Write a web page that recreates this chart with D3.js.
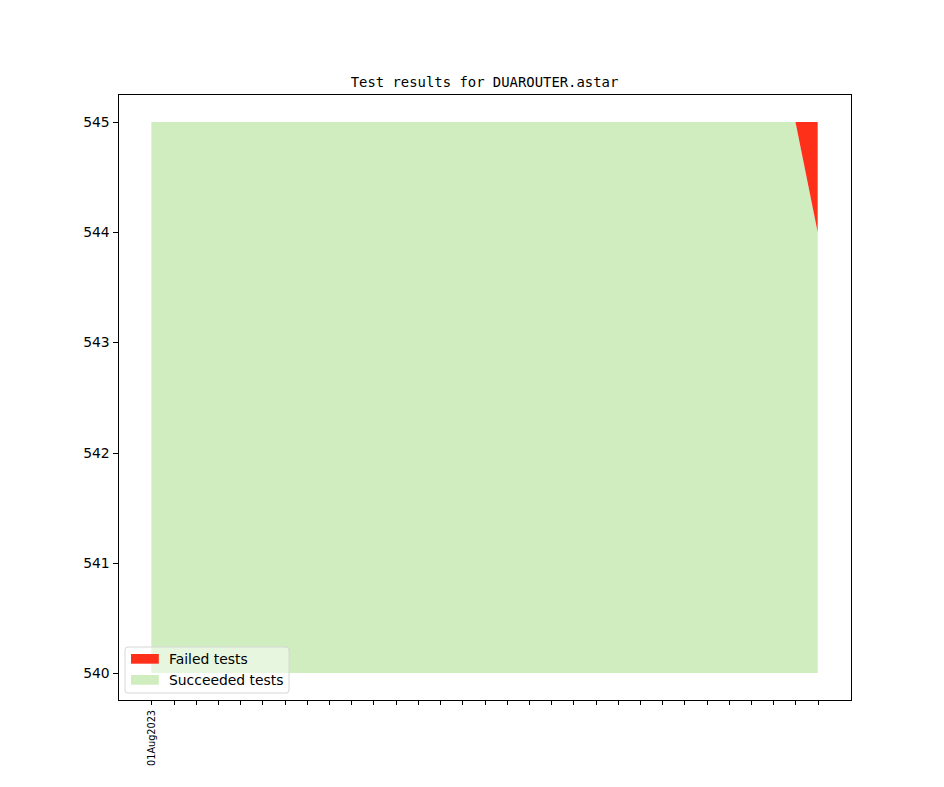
<!DOCTYPE html>
<html><head><meta charset="utf-8">
<script src="https://cdn.jsdelivr.net/npm/d3@7"></script>
<style>body{margin:0;background:#fff}</style>
</head><body>
<svg id="c" width="944" height="787"></svg>
<script>
const dates = ["01Aug2023","02Aug2023","03Aug2023","04Aug2023","05Aug2023","06Aug2023","07Aug2023","08Aug2023","09Aug2023","10Aug2023","11Aug2023","12Aug2023","13Aug2023","14Aug2023","15Aug2023","16Aug2023","17Aug2023","18Aug2023","19Aug2023","20Aug2023","21Aug2023","22Aug2023","23Aug2023","24Aug2023","25Aug2023","26Aug2023","27Aug2023","28Aug2023","29Aug2023","30Aug2023","31Aug2023"];
const tickLabels = ["01Aug2023"];
const succeeded = [545,545,545,545,545,545,545,545,545,545,545,545,545,545,545,545,545,545,545,545,545,545,545,545,545,545,545,545,545,545,544];
const failed    = [0,0,0,0,0,0,0,0,0,0,0,0,0,0,0,0,0,0,0,0,0,0,0,0,0,0,0,0,0,0,1];
const baseline = 540;
const yTicks = [540,541,542,543,544,545];

const svg = d3.select("#c");
const L=118, R=851, T=94.5, B=700.5;
const n = dates.length;
const x = d3.scaleLinear().domain([-(n-1)*0.05, (n-1)*1.05]).range([L,R]);
const y = d3.scaleLinear().domain([539.75,545.25]).range([B,T]);

const idx = d3.range(n);
const green = "#cfedbf", red = "#ff301a";

svg.append("path").datum(idx)
  .attr("d", d3.area().x(i=>x(i)).y0(()=>y(baseline)).y1(i=>y(succeeded[i])))
  .attr("fill", green);
svg.append("path").datum(idx)
  .attr("d", d3.area().x(i=>x(i)).y0(i=>y(succeeded[i])).y1(i=>y(succeeded[i]+failed[i])))
  .attr("fill", red);

// axes
const xAxis = d3.axisBottom(x).tickValues(idx).tickSize(4.86)
  .tickFormat(i => tickLabels.includes(dates[i]) ? dates[i] : "");
const gx = svg.append("g").attr("transform",`translate(0,${B})`).call(xAxis);
gx.select(".domain").remove();
gx.selectAll("line").attr("stroke","#000").attr("stroke-width",1).attr("shape-rendering","crispEdges");
gx.selectAll("text").attr("font-family","DejaVu Sans").attr("font-size","9.7px").attr("fill","#000")
  .attr("transform","rotate(-90)").attr("text-anchor","end").attr("dy","0.32em").attr("x",-9.5).attr("y",0);

const yAxis = d3.axisLeft(y).tickValues(yTicks).tickSize(4.86).tickFormat(d3.format("d"));
const gy = svg.append("g").attr("transform",`translate(${L},0)`).call(yAxis);
gy.select(".domain").remove();
gy.selectAll("line").attr("stroke","#000").attr("stroke-width",1).attr("shape-rendering","crispEdges");
gy.selectAll("text").attr("font-family","DejaVu Sans").attr("font-size","13.9px").attr("fill","#000").attr("x",-8.3);

svg.append("rect").attr("x",L).attr("y",T).attr("width",R-L).attr("height",B-T)
  .attr("fill","none").attr("stroke","#000").attr("stroke-width",1).attr("shape-rendering","crispEdges");

svg.append("text").attr("x",(L+R)/2).attr("y",T-8).attr("text-anchor","middle")
  .attr("font-family","DejaVu Sans Mono").attr("font-size","13.9px").attr("fill","#000")
  .text("Test results for DUAROUTER.astar");

// legend
const lg = svg.append("g");
lg.append("rect").attr("x",125).attr("y",647).attr("width",164).attr("height",46).attr("rx",3)
  .attr("fill","#fff").attr("fill-opacity",0.5).attr("stroke","#d6d6d6").attr("stroke-width",1);
const items = [["Failed tests",red],["Succeeded tests",green]];
items.forEach((it,k)=>{
  const yy = 659 + k*21;
  lg.append("rect").attr("x",131).attr("y",yy-5).attr("width",27.8).attr("height",9.7).attr("fill",it[1]);
  lg.append("text").attr("x",169).attr("y",yy).attr("dy","0.35em")
    .attr("font-family","DejaVu Sans").attr("font-size","13.9px").attr("fill","#000").text(it[0]);
});
</script>
</body></html>
